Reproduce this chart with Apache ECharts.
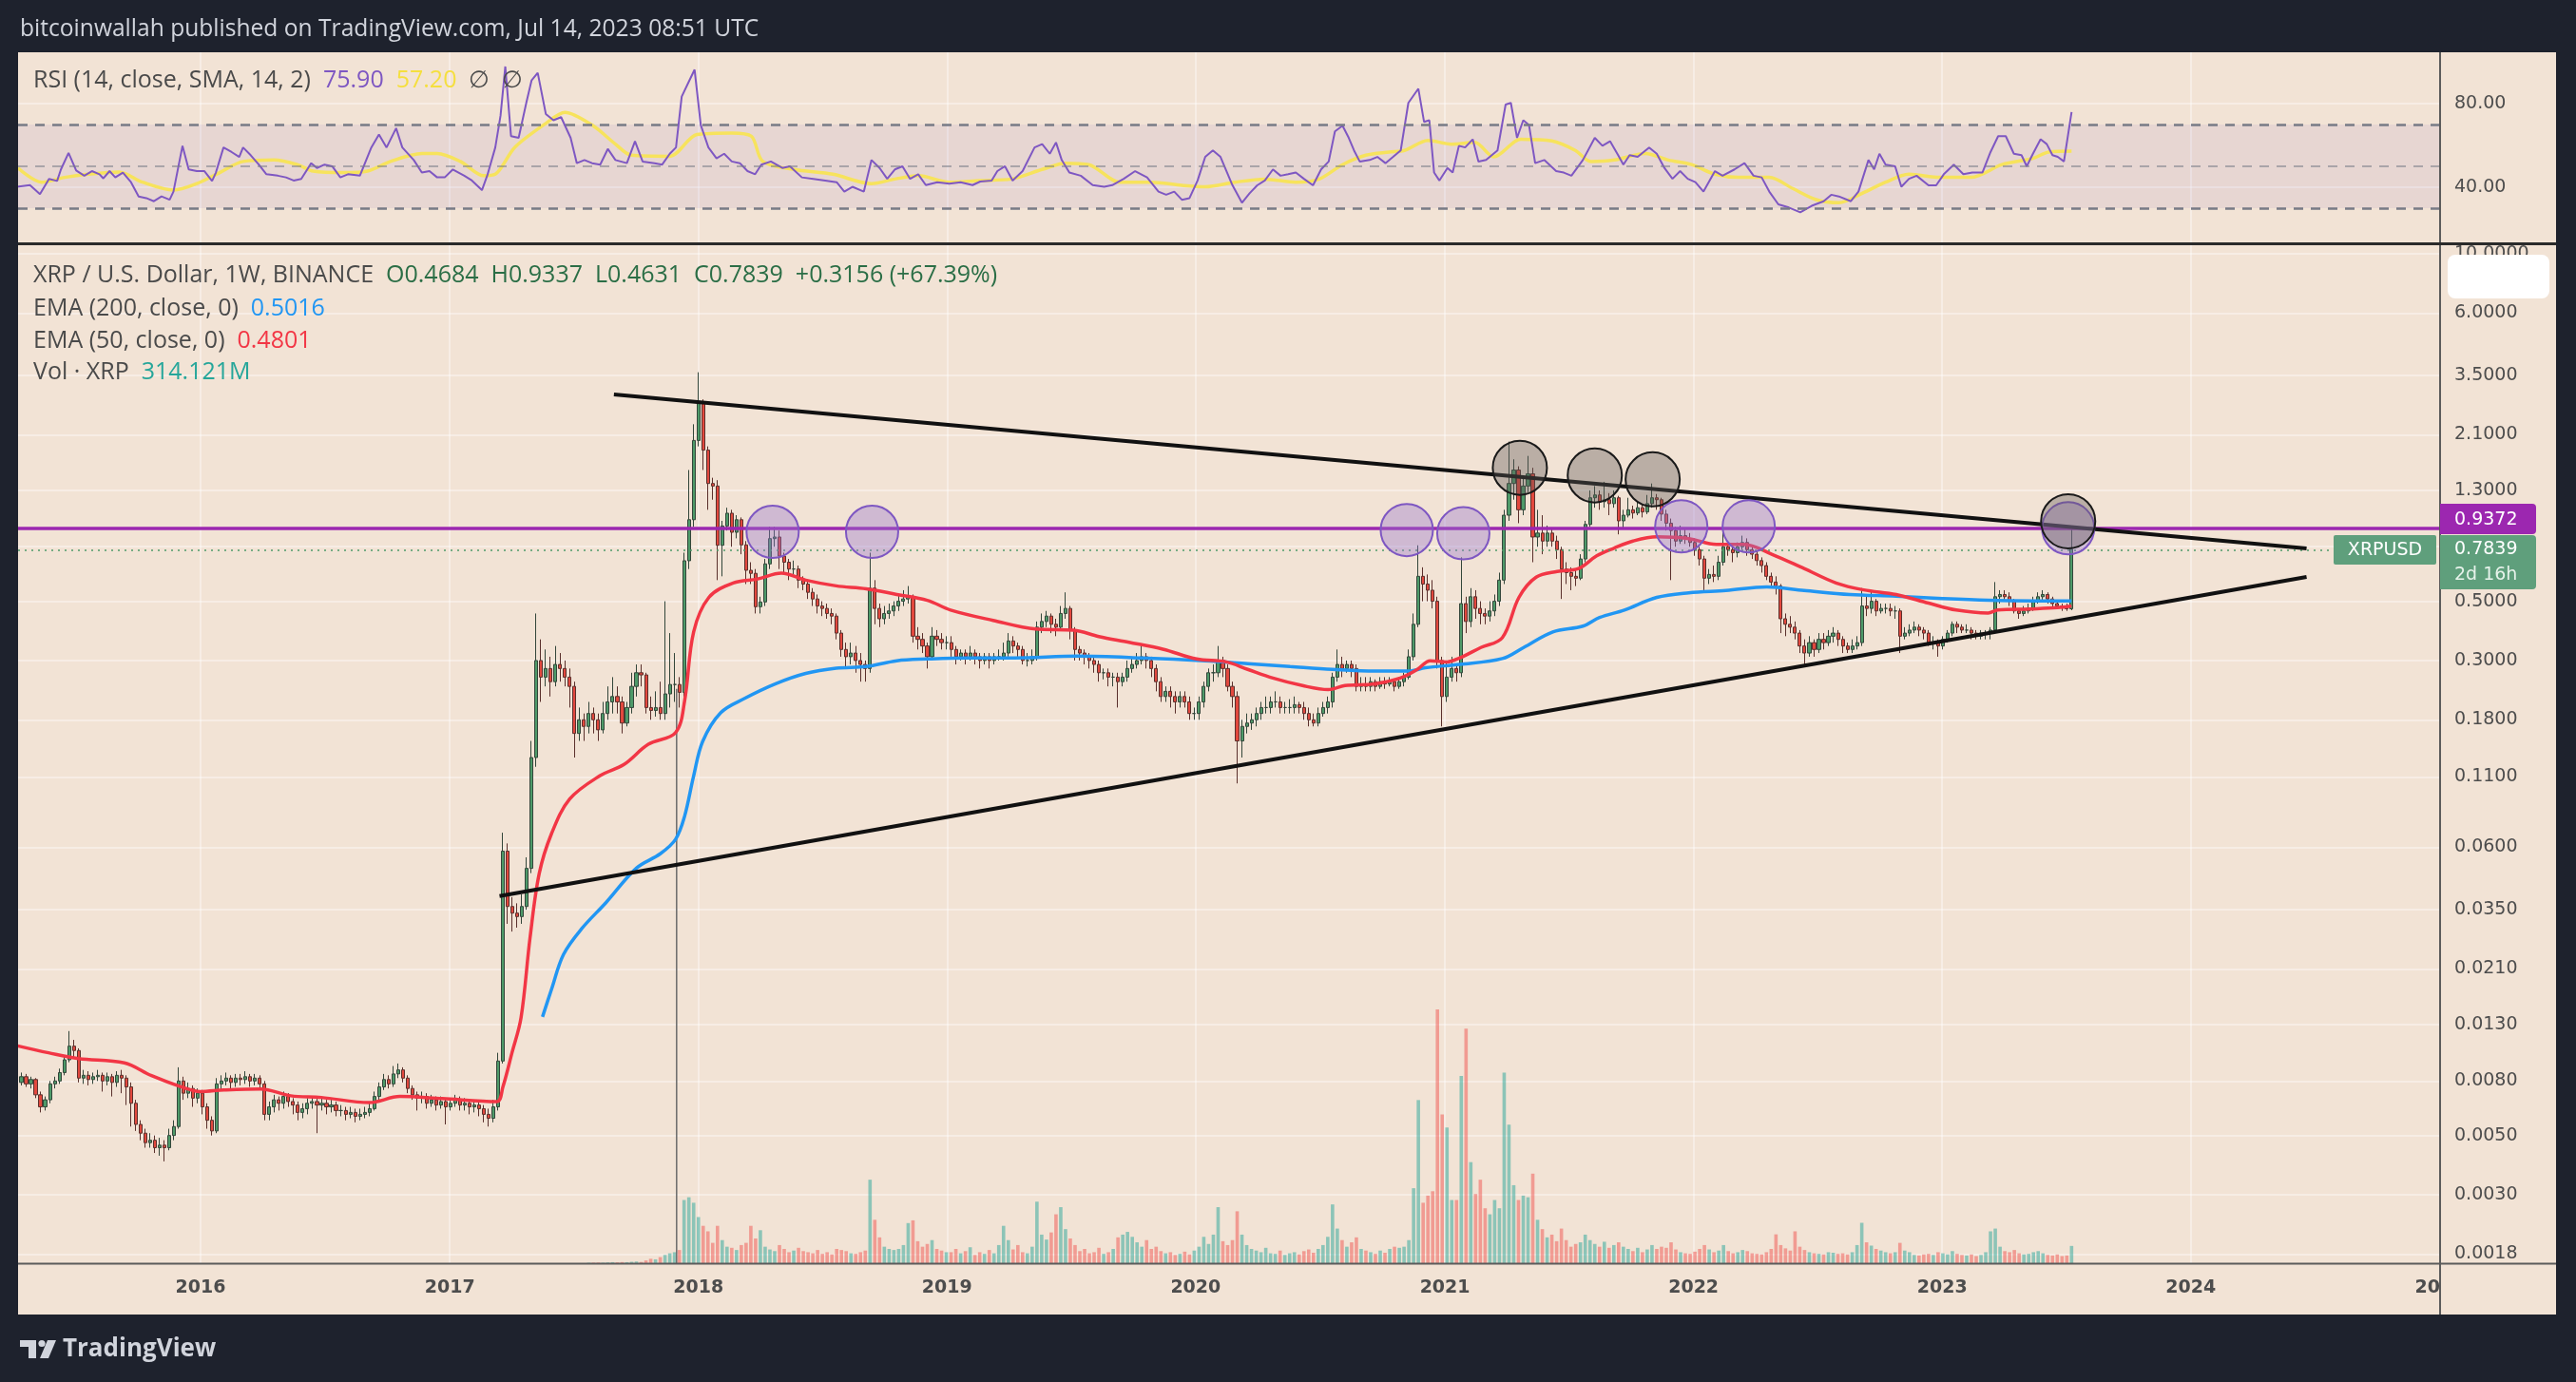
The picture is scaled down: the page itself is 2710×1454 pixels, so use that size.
<!DOCTYPE html>
<html><head><meta charset="utf-8">
<script src="https://cdn.jsdelivr.net/npm/echarts@6/dist/echarts.min.js"></script>
<style>html,body{margin:0;padding:0;background:#1e222d;}#c{width:2710px;height:1454px;}</style>
</head><body><div id="c"></div>
<script>
// ---------------- DATA ----------------
const firstWeek = '2015-04-06';   // Monday of the first weekly candle
const firstOpen = 0.0080;
const weekClose = [
0.0079,0.0083,0.0078,0.0081,0.0071,0.0064,0.0068,0.0078,0.0080,0.0086,
0.0096,0.0108,0.0104,0.0082,0.0084,0.0081,0.0083,0.0084,0.0080,0.0083,
0.0079,0.0084,0.0082,0.0076,0.0066,0.0055,0.0051,0.0047,0.0048,0.0045,
0.0046,0.0045,0.0050,0.0054,0.0080,0.0072,0.0075,0.0069,0.0072,0.0064,
0.0057,0.0052,0.0078,0.0080,0.0082,0.0079,0.0082,0.0081,0.0083,0.0080,
0.0082,0.0078,0.0060,0.0064,0.0068,0.0066,0.0070,0.0067,0.0065,0.0061,
0.0063,0.0066,0.0067,0.0065,0.0066,0.0064,0.0065,0.0062,0.0062,0.0060,
0.0061,0.0059,0.0060,0.0061,0.0063,0.0070,0.0076,0.0081,0.0078,0.0085,
0.0088,0.0082,0.0075,0.0071,0.0069,0.0070,0.0066,0.0068,0.0065,0.0067,
0.0064,0.0066,0.0068,0.0065,0.0066,0.0064,0.0065,0.0063,0.0060,0.0058,
0.0064,0.0095,0.058,0.036,0.034,0.033,0.036,0.050,0.13,0.30,
0.26,0.28,0.25,0.29,0.28,0.26,0.24,0.16,0.18,0.17,
0.19,0.18,0.165,0.19,0.21,0.22,0.21,0.175,0.20,0.24,
0.27,0.265,0.20,0.195,0.20,0.19,0.225,0.244,0.244,0.228,
0.709,1.01,2.0,2.78,1.84,1.38,1.35,0.81,0.957,1.068,
0.906,1.01,0.813,0.653,0.636,0.477,0.497,0.690,0.858,0.87,
0.738,0.70,0.66,0.66,0.60,0.58,0.54,0.51,0.48,0.47,
0.45,0.44,0.38,0.33,0.31,0.32,0.30,0.29,0.28,0.56,
0.47,0.43,0.45,0.46,0.48,0.50,0.51,0.52,0.37,0.36,
0.34,0.31,0.37,0.36,0.35,0.35,0.33,0.31,0.32,0.31,
0.32,0.31,0.30,0.31,0.30,0.31,0.31,0.32,0.355,0.34,
0.33,0.30,0.30,0.31,0.40,0.42,0.44,0.41,0.40,0.45,
0.47,0.39,0.33,0.32,0.31,0.30,0.29,0.27,0.27,0.26,
0.26,0.25,0.26,0.28,0.29,0.30,0.31,0.30,0.28,0.25,
0.22,0.23,0.22,0.21,0.22,0.21,0.19,0.19,0.21,0.24,
0.27,0.27,0.30,0.28,0.24,0.22,0.15,0.17,0.175,0.18,
0.19,0.20,0.20,0.21,0.21,0.20,0.20,0.20,0.205,0.20,
0.19,0.18,0.175,0.19,0.20,0.21,0.26,0.29,0.28,0.29,
0.28,0.24,0.245,0.24,0.25,0.24,0.25,0.245,0.25,0.24,
0.25,0.26,0.31,0.41,0.62,0.58,0.55,0.50,0.30,0.22,
0.26,0.28,0.27,0.49,0.42,0.52,0.47,0.45,0.44,0.46,
0.50,0.60,1.05,1.38,1.55,1.10,1.35,1.50,0.87,0.90,
0.84,0.90,0.84,0.78,0.66,0.64,0.62,0.61,0.72,0.97,
1.22,1.25,1.18,1.20,1.16,1.22,1.00,1.05,1.10,1.07,
1.12,1.08,1.16,1.22,1.20,1.06,0.98,0.92,0.84,0.88,
0.86,0.83,0.78,0.72,0.61,0.63,0.62,0.70,0.80,0.78,
0.76,0.80,0.83,0.78,0.75,0.71,0.68,0.62,0.59,0.57,
0.43,0.41,0.40,0.38,0.34,0.32,0.35,0.33,0.36,0.35,
0.37,0.38,0.36,0.34,0.33,0.34,0.35,0.48,0.47,0.50,
0.46,0.47,0.47,0.46,0.46,0.37,0.38,0.39,0.40,0.39,
0.38,0.35,0.35,0.34,0.36,0.38,0.41,0.40,0.39,0.39,
0.38,0.37,0.38,0.38,0.39,0.52,0.53,0.52,0.50,0.46,
0.45,0.46,0.47,0.50,0.52,0.53,0.51,0.49,0.48,0.475,
0.4684,0.7839];
const weekHigh = [
.0084,.0086,.0085,.0083,.0082,.0073,.0070,.0080,.0083,.0089,
.0099,.0123,.0114,.0106,.0088,.0087,.0086,.0088,.0086,.0086,
.0085,.0087,.0088,.0084,.0079,.0068,.0057,.0053,.0051,.0050,
.0049,.0048,.0053,.0057,.0090,.0083,.0079,.0077,.0075,.0074,
.0066,.0059,.0082,.0084,.0086,.0084,.0085,.0085,.0087,.0085,
.0085,.0084,.0080,.0067,.0071,.0070,.0073,.0072,.0069,.0067,
.0066,.0069,.0070,.0069,.0069,.0068,.0068,.0067,.0065,.0064,
.0064,.0063,.0063,.0064,.0066,.0073,.0079,.0085,.0084,.0091,
.0093,.0090,.0084,.0077,.0073,.0073,.0072,.0071,.0070,.0070,
.0069,.0069,.0071,.0070,.0069,.0068,.0068,.0067,.0065,.0063,
.0068,.0102,.068,.062,.039,.037,.040,.055,.15,.45,
.36,.33,.31,.34,.32,.30,.28,.25,.20,.19,
.21,.20,.19,.21,.24,.26,.24,.22,.21,.27,
.29,.29,.27,.22,.23,.25,.50,.38,.32,.26,
.76,1.55,2.3,3.6,2.85,1.9,1.45,1.42,1.0,1.12,
1.10,1.05,1.03,.84,.70,.66,.52,.72,.95,.95,
.92,.76,.72,.71,.68,.62,.60,.56,.53,.50,
.49,.47,.45,.39,.35,.35,.34,.32,.30,.76,
.60,.49,.48,.49,.50,.53,.55,.57,.53,.40,
.38,.35,.40,.39,.38,.37,.37,.34,.33,.33,
.34,.33,.32,.32,.32,.32,.33,.35,.38,.37,
.35,.34,.32,.33,.42,.45,.46,.45,.43,.48,
.54,.48,.40,.34,.33,.32,.31,.30,.28,.28,
.27,.27,.27,.30,.31,.32,.34,.32,.31,.29,
.26,.24,.24,.23,.23,.23,.22,.20,.22,.25,
.28,.29,.34,.31,.29,.25,.23,.18,.19,.19,
.20,.21,.22,.22,.23,.22,.21,.215,.22,.21,
.21,.20,.19,.20,.21,.22,.27,.33,.31,.30,
.30,.29,.26,.26,.26,.255,.26,.26,.26,.255,
.26,.27,.33,.45,.81,.67,.63,.60,.52,.31,
.30,.31,.29,.73,.52,.56,.55,.50,.47,.50,
.53,.64,1.10,1.98,1.70,1.60,1.45,1.75,1.58,1.10,
1.05,.96,.94,.88,.80,.70,.67,.66,.75,1.0,
1.30,1.35,1.30,1.40,1.27,1.30,1.24,1.10,1.22,1.14,
1.18,1.15,1.25,1.38,1.26,1.22,1.10,1.02,.95,.96,
.93,.90,.86,.80,.74,.66,.68,.74,.91,.84,
.82,.83,.88,.86,.80,.77,.73,.70,.64,.62,
.58,.45,.44,.42,.39,.36,.37,.36,.38,.38,
.39,.40,.39,.37,.35,.36,.37,.56,.52,.55,
.51,.49,.49,.49,.48,.47,.40,.41,.42,.41,
.40,.39,.37,.36,.37,.39,.42,.42,.41,.41,
.40,.39,.39,.39,.40,.59,.55,.55,.54,.51,
.47,.48,.49,.52,.54,.55,.54,.52,.50,.49,
.49,.9337];
const weekLow = [
.0076,.0077,.0076,.0075,.0069,.0061,.0062,.0066,.0075,.0078,
.0084,.0094,.0097,.0079,.0078,.0077,.0078,.0080,.0073,.0077,
.0070,.0076,.0072,.0065,.0054,.0052,.0048,.0045,.0045,.0043,
.0042,.0040,.0044,.0048,.0053,.0068,.0069,.0064,.0066,.0060,
.0053,.0050,.0051,.0074,.0077,.0075,.0076,.0077,.0078,.0076,
.0077,.0074,.0057,.0057,.0061,.0062,.0063,.0064,.0060,.0057,
.0058,.0060,.0063,.0051,.0062,.0060,.0061,.0059,.0059,.0057,
.0058,.0056,.0057,.0058,.0059,.0062,.0068,.0074,.0075,.0076,
.0082,.0079,.0072,.0068,.0062,.0066,.0063,.0064,.0062,.0063,
.0055,.0062,.0064,.0062,.0062,.0060,.0061,.0059,.0056,.0054,
.0056,.0062,.0093,.031,.029,.030,.031,.035,.048,.12,
.21,.24,.22,.24,.25,.24,.20,.13,.15,.15,
.16,.16,.15,.16,.18,.19,.19,.16,.17,.19,
.22,.24,.19,.18,.185,.18,.18,.20,.21,.20,
.22,.66,.95,1.9,1.55,1.1,1.2,.60,.62,.92,
.80,.86,.75,.58,.58,.45,.45,.48,.66,.80,
.66,.63,.60,.62,.56,.55,.51,.48,.45,.44,
.43,.41,.36,.31,.28,.29,.27,.25,.25,.27,
.41,.40,.41,.43,.44,.46,.48,.49,.35,.33,
.32,.28,.30,.34,.33,.33,.31,.29,.30,.29,
.30,.29,.28,.29,.28,.29,.30,.30,.31,.32,
.31,.29,.285,.29,.30,.38,.40,.38,.37,.39,
.43,.36,.30,.30,.29,.28,.27,.25,.255,.24,
.24,.20,.24,.25,.27,.28,.29,.28,.26,.23,
.21,.21,.20,.19,.20,.20,.18,.18,.18,.20,
.23,.25,.26,.26,.23,.20,.104,.13,.16,.165,
.17,.18,.19,.19,.20,.19,.19,.19,.19,.19,
.18,.17,.17,.17,.185,.19,.20,.25,.26,.27,
.26,.23,.23,.23,.23,.23,.235,.235,.24,.23,
.235,.24,.255,.30,.40,.50,.50,.47,.28,.17,
.21,.25,.25,.26,.38,.40,.43,.41,.41,.42,
.44,.48,.58,1.0,1.20,.98,1.05,1.28,.70,.80,
.75,.80,.80,.72,.51,.58,.55,.57,.60,.70,
.95,1.12,1.10,1.12,1.05,1.12,.89,.93,1.03,1.02,
1.05,1.03,1.06,1.12,1.10,1.0,.92,.60,.80,.82,
.82,.80,.74,.68,.55,.58,.59,.60,.68,.74,
.70,.73,.78,.74,.72,.68,.64,.60,.56,.53,
.38,.37,.38,.36,.32,.29,.31,.31,.32,.33,
.34,.35,.34,.32,.32,.32,.33,.34,.44,.45,
.44,.45,.45,.44,.43,.32,.36,.37,.38,.37,
.36,.34,.33,.31,.33,.35,.37,.38,.38,.38,
.36,.36,.36,.36,.36,.38,.49,.50,.48,.45,
.43,.44,.45,.46,.49,.50,.49,.47,.47,.46,
.46,.4631];
// weekly volume in millions XRP (visible from week 120 on)
const volStartWeek = 120;
const weekVolumeM = [
8,10,12,9,14,18,15,20,18,25,
30,22,50,80,70,110,150,180,200,240,
1150,1200,1100,840,680,580,370,680,420,300,
280,240,330,370,680,450,600,300,250,220,
330,260,200,230,280,220,200,180,240,170,
200,160,260,240,220,180,170,200,230,1520,
790,470,300,260,240,260,330,730,780,400,
300,350,420,260,230,200,200,260,180,220,
290,150,200,170,240,180,330,680,420,250,
330,200,180,300,1120,520,430,560,890,1020,
620,450,330,220,260,180,200,280,170,200,
260,470,520,570,480,380,300,420,260,300,
220,180,200,150,170,210,160,230,300,480,
350,520,1020,400,330,420,945,520,330,260,
230,200,280,180,170,230,150,180,200,160,
220,250,190,260,330,480,1070,630,420,300,
380,470,260,230,200,170,230,190,260,300,
280,300,420,1365,2970,1100,1230,1310,4620,2710,
2470,1150,1150,3410,4270,1840,1260,1520,1000,890,
1150,1000,3470,2520,1420,1150,1230,1200,1630,790,
620,470,520,400,630,420,300,350,380,520,
420,350,300,390,280,330,380,300,260,220,
280,200,250,330,260,300,280,380,250,200,
180,170,210,260,330,250,200,230,330,220,
180,200,240,220,180,170,160,200,260,525,
330,270,230,580,300,240,200,180,170,160,
200,190,170,180,160,200,330,735,380,320,
260,230,200,180,200,370,230,200,150,140,
160,170,150,200,180,160,220,170,150,140,
160,130,150,200,580,630,300,220,200,240,
180,160,170,200,220,180,150,140,160,130,
140,314.121];
// indicator lines: [week index, value]
const ema50Points = [[0,0.01085],[6.7,0.0102],[13,0.0097],[22.6,0.00935],[28.3,0.00838],[34.6,0.0076],[38.5,0.0073],[43.5,0.0074],[51.2,0.00747],[57.5,0.00704],[63.9,0.00694],[74,0.00664],[80.4,0.0070],[89.3,0.00687],[100.7,0.0067],[102,0.0076],[103.9,0.0102],[105.8,0.0138],[107.7,0.0276],[109.6,0.0477],[112.2,0.0675],[116,0.0909],[122.3,0.111],[127.4,0.1225],[132.5,0.1457],[138.2,0.161],[140.1,0.2115],[142,0.384],[145.2,0.517],[150.3,0.5855],[155.4,0.606],[160.4,0.637],[165.5,0.600],[171.9,0.571],[178.2,0.557],[184.6,0.530],[191,0.504],[195.9,0.4636],[204.8,0.424],[213.7,0.3935],[221.7,0.3896],[227,0.3688],[233.3,0.351],[240.4,0.331],[247.5,0.304],[253.7,0.2964],[258.2,0.278],[263.5,0.258],[269.7,0.2417],[275.1,0.2335],[278.6,0.2417],[284.9,0.2455],[290.2,0.258],[293.8,0.278],[296.5,0.2994],[300,0.2964],[302.7,0.3069],[307.1,0.3357],[311.6,0.3651],[315.1,0.517],[318.7,0.6152],[323.1,0.6465],[327.6,0.6629],[331.4,0.74],[335,0.79],[339,0.84],[344,0.871],[350.7,0.858],[356.5,0.8166],[362.3,0.8166],[368.1,0.7503],[374.9,0.663],[381.6,0.5855],[387.4,0.5515],[394.2,0.530],[401,0.492],[406.8,0.4636],[413.5,0.452],[415.5,0.4636],[422.2,0.468],[428,0.473],[431,0.4801]];
const ema200Points = [[110.3,0.0139],[112.2,0.01765],[114.7,0.0238],[118.5,0.0297],[123.6,0.0372],[130,0.0501],[135,0.0567],[138.2,0.0642],[140.1,0.0783],[142,0.1109],[143.9,0.1494],[147.7,0.1915],[152.8,0.2168],[159.2,0.2455],[165.5,0.2683],[171.9,0.2807],[178.2,0.2848],[184.6,0.2994],[191,0.3039],[199.6,0.3069],[209.2,0.3069],[222.6,0.3115],[235.9,0.3069],[249.3,0.2994],[258.2,0.2921],[267.1,0.2848],[276,0.2779],[284.9,0.2738],[292,0.2738],[295.5,0.282],[302.7,0.290],[311.6,0.305],[316,0.335],[322.2,0.3838],[328.5,0.4034],[332,0.4345],[337.2,0.4636],[344,0.517],[350.7,0.538],[358.5,0.5488],[367.1,0.5655],[374.9,0.5488],[384.5,0.530],[394.2,0.5222],[403.9,0.5118],[413.5,0.5043],[423.2,0.5018],[431,0.5016]];
const rsiPoints = [[0,40.2],[2.8,41],[4.9,36.7],[6.8,44],[8.5,43],[9.3,48.5],[10.9,56.4],[12.5,48],[14.2,45.5],[15.8,47.7],[17.4,46.2],[18.2,44.2],[19.5,47.7],[20.7,44.7],[22.3,47],[24,42.4],[25.6,35.6],[27.2,34.8],[28.8,33.3],[30.4,35.6],[32.1,34],[32.9,37.9],[34.8,59.8],[36.1,48.5],[37.8,47.7],[39.4,47.7],[41,43],[41.8,47],[43.4,59],[45.1,56.8],[46.7,54.5],[47.5,59],[49.1,55.3],[50.8,50.8],[52.4,46.2],[54.8,45.5],[56.5,44.7],[58.1,43.2],[59.7,44],[61.8,51.5],[63,49.2],[64.6,50.8],[66.2,50],[67.9,44.7],[69.5,46.2],[72,45.5],[74.4,59],[76,65.2],[77.6,59],[79.6,68.2],[80.9,59],[83.3,53],[85,47],[86.6,47.7],[88.2,44.7],[89.8,44.7],[91.5,48.5],[93.9,45.5],[95.5,43.2],[97.6,38.6],[98.8,46.2],[100.4,59],[101.5,74.2],[102.5,97.7],[103.7,64.4],[105.3,63.6],[106.9,80.3],[108,91],[109.3,94.7],[111,75],[112.6,72],[114.2,73.5],[116.2,63.6],[117.5,51.5],[119.1,53],[120.7,51.5],[122.4,50.8],[124,58.3],[125.6,53],[128,51.5],[129.7,62],[131.3,52.3],[133.8,51.5],[135.4,50.8],[137,56],[138.3,59],[139.5,83.3],[141.1,91],[142.2,96.2],[143.5,69.7],[145.1,59],[146.8,53.8],[148.4,56],[150,52.3],[151.7,51.5],[153.3,47.7],[154.9,46.2],[156.2,50.8],[158.2,52.3],[160.6,49.2],[162.2,50],[164.7,44.7],[167.1,44],[169.6,43.2],[172,42.4],[173.6,37.9],[175.3,40.2],[177.7,37.9],[179.3,53],[181,49.2],[182.6,44],[184.2,48.5],[185.8,50],[187.4,44],[189.1,46.2],[190.7,41],[193.1,42.4],[195.6,41.7],[198,42.4],[200.5,41],[202.1,42.7],[204.5,43.2],[205.7,47.7],[207.3,50],[208.9,43.2],[211,47.7],[213.5,59],[215.1,60.6],[216.7,56],[218,61.4],[219.2,53],[220.8,47],[223.2,45.5],[225.7,41],[228.1,40.2],[229.8,41],[232.2,44],[234.6,47.7],[237.1,44.7],[239.5,37.9],[241.1,36.4],[242.8,37.9],[244.4,34],[246,34.8],[247.7,43.2],[249.3,54.5],[250.9,57.6],[252.5,54.5],[255,41],[257,32.6],[258.6,37.1],[260.2,40.9],[261.8,43.2],[263.5,48.5],[265.1,45.5],[266.7,46.2],[268.3,47],[270,44],[271.9,40.9],[273.6,48.5],[275.2,52.3],[276.5,66.7],[278.1,69.4],[279.4,63.6],[280.5,57.6],[281.7,52.3],[283.8,53],[285.4,54.5],[287.1,51.5],[288.7,54.5],[290.3,57.6],[291.9,80.3],[294,87.1],[295.2,71.2],[296.3,72],[297.3,47],[298.4,43.2],[300.1,49.2],[301.2,47],[302.5,59.8],[303.8,59],[305.4,62.9],[306.6,52.3],[308.2,53],[310.6,57.6],[312.3,79.5],[313.4,80.3],[314.7,63.6],[316,72],[317.2,69.7],[318.5,51.5],[320.4,53],[322.9,47.7],[324.5,47],[326.1,45.5],[328.5,53],[331,63.6],[332.6,59.8],[334.2,62],[335.9,55.3],[337,50.8],[338.3,55.3],[340,54.5],[342.4,59],[344,56],[345.6,49.2],[347.3,44],[348.9,47.7],[350.5,44],[352.1,42.4],[353.8,37.9],[356.2,47.7],[357.8,45.5],[360.3,48.5],[362.4,51.5],[364.3,45.5],[366,44.7],[367.6,37.9],[369.5,31.8],[371.7,30.3],[374.1,28],[376.5,31.1],[379,33.3],[380.6,36.4],[382.2,35.6],[384.7,33.3],[386.3,37.9],[388.4,53],[389.6,48.5],[390.7,56],[392,50.8],[394,50],[395.3,40.2],[396.9,44],[398.5,45.5],[401,40.9],[402.6,40.9],[404.2,46.2],[406.3,50.8],[408.3,46.2],[410.2,47],[412.3,47],[414,56.8],[415.6,64.4],[417.2,64.4],[418.9,56],[420.5,55.3],[421.6,50],[422.9,56],[424.5,62.9],[425.8,60.6],[427,55.3],[428.1,54.5],[429.4,52.3],[431,75.9]];
const rsiSmaPoints = [[0.3,49.2],[5.2,42.4],[10.1,44.7],[15,46.2],[21.5,47.3],[26.4,42.4],[32.9,38.6],[37.8,41.7],[42.6,47],[47.5,52.3],[54,53],[58.9,50.8],[62.2,47.7],[68.7,47],[73.6,47.7],[78.4,52.3],[85,56.1],[88.2,56.1],[93.1,52.3],[98,45.5],[100.4,46.2],[104.5,59.1],[111,70.5],[115,75.8],[120.7,69.7],[125.6,60.6],[128.9,55.3],[137,54.8],[142.7,65.2],[150,65.9],[154.1,64.4],[156.5,52.3],[163,48.5],[171.2,46.2],[179.3,41.7],[184.2,43.9],[189.1,45.5],[195.6,42.4],[202.1,43.2],[208.6,43.9],[215.1,48.5],[220,51.5],[224.9,50.8],[231.4,42.4],[237.9,42.4],[244.4,40.9],[249.3,40.2],[255.5,42.4],[261.8,43.9],[268.3,42.4],[273.2,43.9],[278.1,50.8],[283,55.3],[287.9,56.8],[291.1,57.6],[296,62.4],[300.9,60.6],[305.8,61.4],[309.8,54.5],[315.5,62.9],[322,62.1],[326.9,57.6],[330.2,52.3],[335.1,53],[341.6,56.1],[346.4,53],[351.3,50.8],[356.2,46.2],[361.1,44.7],[367.6,44.7],[372.5,39.4],[377.4,34.1],[382.2,32.6],[387.1,37.1],[392,42.4],[396.9,46.2],[403.4,44.7],[409.9,44.7],[416.4,50.8],[422.9,53.8],[426.2,56.8],[431,57.2]];
// drawings
const trendUpper = [['2017-08-30', 2.974], ['2024-06-19', 0.788]];
const trendLower = [['2017-03-15', 0.0394], ['2024-06-19', 0.617]];
const purpleCircles = [['2018-04-20',0.91],['2018-09-13',0.91],['2020-11-06',0.924],['2021-01-28',0.898],['2021-12-14',0.953],['2022-03-23',0.953],['2023-07-05',0.938]];
const grayCircles = [['2021-04-21',1.58],['2021-08-09',1.48],['2021-11-02',1.43],['2023-07-05',0.996]];
const markerDate = '2017-11-30';
const markerTop = 0.235;
const levelPrice = 0.9372;
const lastClose = 0.7839;
// axes
const yearTicks = ['2016-01-01','2017-01-01','2018-01-01','2019-01-01','2020-01-01','2021-01-01','2022-01-01','2023-01-01','2024-01-01','2025-01-01'];
const priceTicks = [10, 6, 3.5, 2.1, 1.3, 0.8, 0.5, 0.3, 0.18, 0.11, 0.06, 0.035, 0.021, 0.013, 0.008, 0.005, 0.003, 0.0018];
const rsiTicks = [40, 80];

// ---------------- BUILD ----------------
const DAY = 864e5;
const dt = s => { const p = s.split('-').map(Number); return Date.UTC(p[0], p[1] - 1, p[2]); };
const T0 = dt(firstWeek);
const wt = i => T0 + i * 7 * DAY;
const X_MIN = Date.UTC(2015, 3, 8, 4), X_MAX = dt('2025-01-01');
const P_MIN = 0.001663, P_MAX = 10.85;
const RSI_MIN = 13.18, RSI_MAX = 104.5;
const VOL_MAX = 18550;

const PANEL = '#f2e3d5', FRAME = '#1e222d', GRID = 'rgba(255,255,255,0.5)';
const AXIS_TXT = '#4d4d4d';
const UP = '#4e9a69', DOWN = '#e2483e';

const openOf = i => i === 0 ? firstOpen : weekClose[i - 1];
const candles = weekClose.map((c, i) => [wt(i), openOf(i), c, weekLow[i], weekHigh[i]]);
const volData = weekVolumeM.map((v, k) => {
  const i = volStartWeek + k;
  const up = weekClose[i] >= openOf(i);
  return { value: [wt(i), v], itemStyle: { color: up ? 'rgba(38,166,154,0.5)' : 'rgba(239,83,80,0.5)' } };
});
const toT = pts => pts.map(p => [wt(p[0]), p[1]]);
const toD = pts => pts.map(p => [dt(p[0]), p[1]]);
const yearTs = yearTicks.map(dt);
const priceTickLogs = priceTicks.map(v => Math.log10(v));

const axisFont = { color: AXIS_TXT, fontFamily: 'DejaVu Sans', fontSize: 19 };
const LF = 'Open Sans';
const LS = 25;
const rich = {
  t: { fill: '#4a4a4a', fontSize: LS, fontFamily: LF },
  g: { fill: '#2b6e46', fontSize: LS, fontFamily: LF },
  b: { fill: '#2196f3', fontSize: LS, fontFamily: LF },
  r: { fill: '#f23645', fontSize: LS, fontFamily: LF },
  c: { fill: '#26a69a', fontSize: LS, fontFamily: LF },
  p: { fill: '#7e57c2', fontSize: LS, fontFamily: LF },
  y: { fill: '#f5df3e', fontSize: LS, fontFamily: LF }
};
const legend = (y, text) => ({ type: 'text', x: 35, y: y, z: 70, silent: true,
  style: { text: text, rich: rich, fontSize: LS, fontFamily: LF, fill: '#4a4a4a', verticalAlign: 'middle' } });

// time runs on a plain numeric axis (milliseconds), so year ticks can be placed exactly
const timeAxis = (gridIndex, showLabels) => ({
  type: 'value', gridIndex: gridIndex, min: X_MIN, max: X_MAX, scale: true,
  axisLine: { show: false }, axisTick: { show: false, customValues: yearTs },
  axisLabel: Object.assign({ show: showLabels, customValues: yearTs, margin: 17, fontWeight: 'bold',
    formatter: v => String(new Date(v).getUTCFullYear()) }, axisFont),
  splitLine: { show: true, lineStyle: { color: GRID, width: 1.5 } }
});

const option = {
  animation: false,
  backgroundColor: PANEL,
  grid: [
    { left: 19, top: 55, width: 2548, height: 201 },
    { left: 19, top: 257, width: 2548, height: 1072 }
  ],
  xAxis: [ timeAxis(0, false), timeAxis(1, true) ],
  yAxis: [
    { type: 'value', gridIndex: 0, position: 'right', min: RSI_MIN, max: RSI_MAX,
      axisLine: { show: false }, axisTick: { show: false, customValues: rsiTicks },
      axisLabel: Object.assign({ customValues: rsiTicks, margin: 15, formatter: v => v.toFixed(2) }, axisFont),
      splitLine: { show: true, lineStyle: { color: GRID, width: 1.5 } } },
    { type: 'log', logBase: 10, gridIndex: 1, min: P_MIN, max: P_MAX, show: false },
    { type: 'value', gridIndex: 1, position: 'right', min: Math.log10(P_MIN), max: Math.log10(P_MAX),
      axisLine: { show: false }, axisTick: { show: false, customValues: priceTickLogs },
      axisLabel: Object.assign({ customValues: priceTickLogs, margin: 15,
        formatter: v => Math.pow(10, v).toFixed(4) }, axisFont),
      splitLine: { show: true, lineStyle: { color: GRID, width: 1.5 } } },
    { type: 'value', gridIndex: 1, min: 0, max: VOL_MAX, show: false }
  ],
  series: [
    { type: 'bar', name: 'Vol', xAxisIndex: 1, yAxisIndex: 3, data: volData, barWidth: 3.6, z: 1, silent: true },
    { type: 'line', name: 'marker', xAxisIndex: 1, yAxisIndex: 1, silent: true, symbol: 'none', z: 1,
      data: [[dt(markerDate), P_MIN], [dt(markerDate), markerTop]], lineStyle: { color: '#6a6a6a', width: 1.5 } },
    { type: 'candlestick', name: 'XRPUSD', xAxisIndex: 1, yAxisIndex: 1, data: candles, barWidth: 3.6, z: 3,
      itemStyle: { color: UP, color0: DOWN, borderColor: '#33463a', borderColor0: '#5a302c', borderWidth: 1 },
      markLine: { silent: true, symbol: ['none', 'none'], label: { show: false },
        data: [
          { yAxis: levelPrice, lineStyle: { color: '#9c27b0', width: 3.5, type: 'solid' } },
          { yAxis: lastClose, lineStyle: { color: '#4e9a69', width: 1.6, type: [2, 5] } }
        ] } },
    { type: 'line', name: 'EMA200', xAxisIndex: 1, yAxisIndex: 1, data: toT(ema200Points), smooth: 0.35,
      symbol: 'none', silent: true, z: 4, lineStyle: { color: '#2196f3', width: 3.5 } },
    { type: 'line', name: 'EMA50', xAxisIndex: 1, yAxisIndex: 1, data: toT(ema50Points), smooth: 0.35,
      symbol: 'none', silent: true, z: 4, lineStyle: { color: '#f23645', width: 3.5 } },
    { type: 'line', name: 'upper', xAxisIndex: 1, yAxisIndex: 1, data: toD(trendUpper), symbol: 'none',
      silent: true, z: 6, lineStyle: { color: '#111111', width: 4 } },
    { type: 'line', name: 'lower', xAxisIndex: 1, yAxisIndex: 1, data: toD(trendLower), symbol: 'none',
      silent: true, z: 6, lineStyle: { color: '#111111', width: 4 } },
    { type: 'scatter', name: 'purple', xAxisIndex: 1, yAxisIndex: 1, data: toD(purpleCircles), symbolSize: 55,
      silent: true, z: 7, itemStyle: { color: 'rgba(149,117,205,0.38)', borderColor: '#7e57c2', borderWidth: 2, opacity: 1 } },
    { type: 'scatter', name: 'gray', xAxisIndex: 1, yAxisIndex: 1, data: toD(grayCircles), symbolSize: 57,
      silent: true, z: 8, itemStyle: { color: 'rgba(95,90,88,0.38)', borderColor: '#1a1a1a', borderWidth: 2, opacity: 1 } },
    { type: 'line', name: 'RSI SMA', xAxisIndex: 0, yAxisIndex: 0, data: toT(rsiSmaPoints), smooth: 0.3,
      symbol: 'none', silent: true, z: 3, lineStyle: { color: '#f7e35c', width: 3.5 } },
    { type: 'line', name: 'RSI', xAxisIndex: 0, yAxisIndex: 0, data: toT(rsiPoints), symbol: 'none',
      silent: true, z: 4, lineStyle: { color: '#7e57c2', width: 2 },
      markArea: { silent: true, itemStyle: { color: 'rgba(126,87,194,0.09)' }, data: [[{ yAxis: 30 }, { yAxis: 70 }]] },
      markLine: { silent: true, symbol: ['none', 'none'], label: { show: false },
        data: [
          { yAxis: 70, lineStyle: { color: '#787b86', width: 2.5, type: [10, 8] } },
          { yAxis: 50, lineStyle: { color: 'rgba(120,123,134,0.55)', width: 2, type: [10, 8] } },
          { yAxis: 30, lineStyle: { color: '#787b86', width: 2.5, type: [10, 8] } }
        ] } }
  ],
  graphic: [
    { type: 'rect', z: 100, silent: true, shape: { x: 0, y: 0, width: 2710, height: 55 }, style: { fill: FRAME } },
    { type: 'rect', z: 100, silent: true, shape: { x: 0, y: 1383, width: 2710, height: 71 }, style: { fill: FRAME } },
    { type: 'rect', z: 100, silent: true, shape: { x: 0, y: 0, width: 19, height: 1454 }, style: { fill: FRAME } },
    { type: 'rect', z: 100, silent: true, shape: { x: 2689, y: 0, width: 21, height: 1454 }, style: { fill: FRAME } },
    { type: 'rect', z: 50, silent: true, shape: { x: 2568, y: 1331, width: 121, height: 52 }, style: { fill: PANEL } },
    { type: 'line', z: 60, silent: true, shape: { x1: 2567, y1: 55, x2: 2567, y2: 1383 }, style: { stroke: '#5b5b5b', lineWidth: 2 } },
    { type: 'line', z: 60, silent: true, shape: { x1: 19, y1: 256.5, x2: 2689, y2: 256.5 }, style: { stroke: '#2a2a2a', lineWidth: 3 } },
    { type: 'line', z: 60, silent: true, shape: { x1: 19, y1: 1329.5, x2: 2689, y2: 1329.5 }, style: { stroke: '#5b5b5b', lineWidth: 2 } },
    { type: 'rect', z: 60, silent: true, shape: { x: 2575, y: 268, width: 107, height: 46, r: 8 }, style: { fill: '#ffffff' } },
    { type: 'rect', z: 70, silent: true, shape: { x: 2567, y: 530, width: 101, height: 32, r: [0, 4, 4, 0] }, style: { fill: '#9c27b0' } },
    { type: 'text', z: 71, silent: true, x: 2582, y: 547, style: { text: '0.9372', fill: '#ffffff', fontSize: 19, fontFamily: 'DejaVu Sans', verticalAlign: 'middle' } },
    { type: 'rect', z: 70, silent: true, shape: { x: 2567, y: 563, width: 101, height: 57, r: [0, 4, 4, 0] }, style: { fill: '#5f9f7c' } },
    { type: 'text', z: 71, silent: true, x: 2582, y: 578, style: { text: '0.7839', fill: '#ffffff', fontSize: 19, fontFamily: 'DejaVu Sans', verticalAlign: 'middle' } },
    { type: 'text', z: 71, silent: true, x: 2582, y: 605, style: { text: '2d 16h', fill: '#e6f2ea', fontSize: 19, fontFamily: 'DejaVu Sans', verticalAlign: 'middle' } },
    { type: 'rect', z: 70, silent: true, shape: { x: 2455, y: 563, width: 108, height: 31, r: 2 }, style: { fill: '#5f9f7c' } },
    { type: 'text', z: 71, silent: true, x: 2509, y: 579, style: { text: 'XRPUSD', fill: '#ffffff', fontSize: 19, fontFamily: 'DejaVu Sans', align: 'center', verticalAlign: 'middle' } },
    { type: 'text', z: 110, silent: true, x: 21, y: 31, style: { text: 'bitcoinwallah published on TradingView.com, Jul 14, 2023 08:51 UTC', fill: '#d1d4dc', fontSize: 24.6, fontFamily: LF, verticalAlign: 'middle' } },
    legend(85, '{t|RSI (14, close, SMA, 14, 2)}  {p|75.90}  {y|57.20}  {t|∅  ∅}'),
    legend(290, '{t|XRP / U.S. Dollar, 1W, BINANCE}  {g|O0.4684}  {g|H0.9337}  {g|L0.4631}  {g|C0.7839}  {g|+0.3156 (+67.39%)}'),
    legend(325, '{t|EMA (200, close, 0)}  {b|0.5016}'),
    legend(359, '{t|EMA (50, close, 0)}  {r|0.4801}'),
    legend(392, '{t|Vol · XRP}  {c|314.121M}'),
    { type: 'polygon', z: 110, silent: true, shape: { points: [[21, 1410], [38, 1410], [38, 1429], [30, 1429], [30, 1417], [21, 1417]] }, style: { fill: '#d1d4dc' } },
    { type: 'circle', z: 110, silent: true, shape: { cx: 44, cy: 1413.5, r: 3.6 }, style: { fill: '#d1d4dc' } },
    { type: 'polygon', z: 110, silent: true, shape: { points: [[50, 1410], [59, 1410], [51, 1429], [42, 1429]] }, style: { fill: '#d1d4dc' } },
    { type: 'text', z: 110, silent: true, x: 66, y: 1420, style: { text: 'TradingView', fill: '#d1d4dc', fontSize: 26, fontWeight: 'bold', fontFamily: LF, verticalAlign: 'middle' } }
  ]
};
const chart = echarts.init(document.getElementById('c'), null, { renderer: 'canvas', width: 2710, height: 1454 });
chart.setOption(option);
</script>
</body></html>
